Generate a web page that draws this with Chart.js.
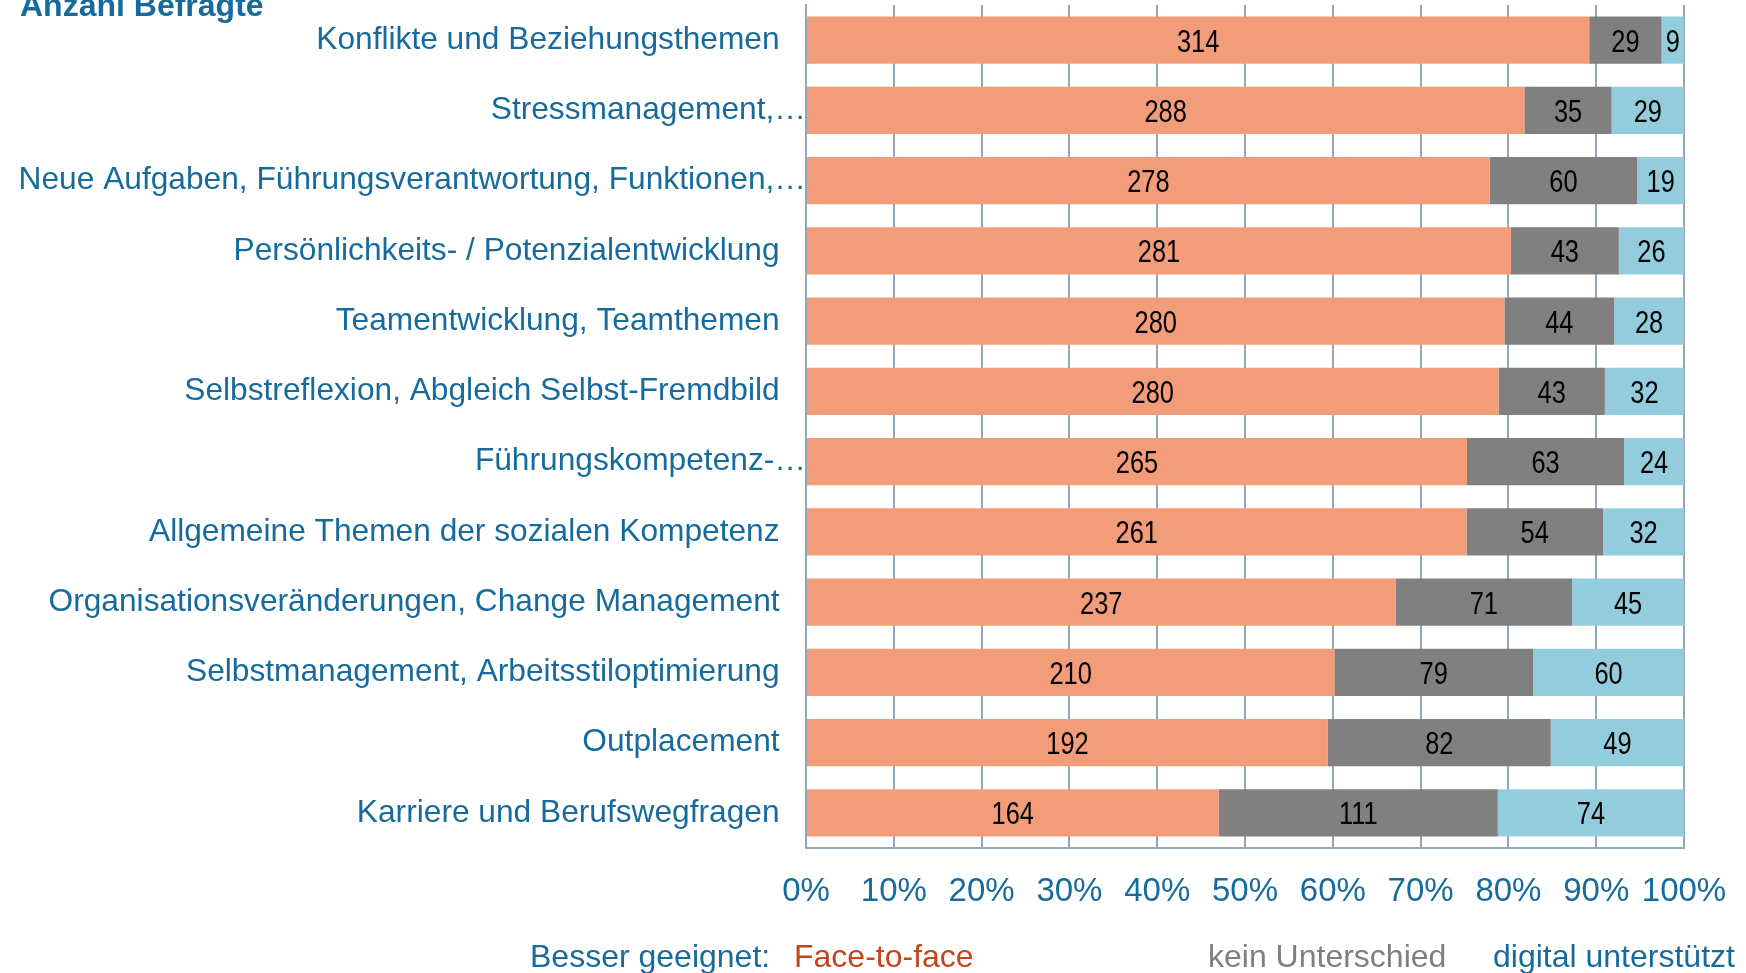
<!DOCTYPE html>
<html>
<head>
<meta charset="utf-8">
<script src="https://cdn.jsdelivr.net/npm/chart.js@4.4.1/dist/chart.umd.min.js"></script>
<style>
  html, body { margin: 0; padding: 0; background: #fff; }
  #wrap { width: 1746px; height: 973px; }
</style>
</head>
<body>
<div id="wrap"><canvas id="chart"></canvas></div>
<script>
const categories = [
    'Konflikte und Beziehungsthemen',
    'Stressmanagement,…',
    'Neue Aufgaben, Führungsverantwortung, Funktionen,…',
    'Persönlichkeits- / Potenzialentwicklung',
    'Teamentwicklung, Teamthemen',
    'Selbstreflexion, Abgleich Selbst-Fremdbild',
    'Führungskompetenz-…',
    'Allgemeine Themen der sozialen Kompetenz',
    'Organisationsveränderungen, Change Management',
    'Selbstmanagement, Arbeitsstiloptimierung',
    'Outplacement',
    'Karriere und Berufswegfragen'
];
const faceToFace = [314, 288, 278, 281, 280, 280, 265, 261, 237, 210, 192, 164];
const keinUnterschied = [29, 35, 60, 43, 44, 43, 63, 54, 71, 79, 82, 111];
const digital = [9, 29, 19, 26, 28, 32, 24, 32, 45, 60, 49, 74];
const xTicks = ['0%', '10%', '20%', '30%', '40%', '50%', '60%', '70%', '80%', '90%', '100%'];

const BLUE = '#176b9c';
const GRID = '#93a5bf';
const FONT = "'Liberation Sans', Arial, sans-serif";

const totals = categories.map((_, i) => faceToFace[i] + keinUnterschied[i] + digital[i]);
const pct = arr => arr.map((v, i) => v / totals[i] * 100);

const series = [
    { label: 'Face-to-face', counts: faceToFace, color: '#f29c7a' },
    { label: 'kein Unterschied', counts: keinUnterschied, color: '#808080' },
    { label: 'digital unterstützt', counts: digital, color: '#93cddd' }
];

// counts in the segments, squeezed horizontally to look like Arial Narrow
const countLabels = {
    id: 'countLabels',
    afterDatasetsDraw(chart) {
        const ctx = chart.ctx;
        chart.data.datasets.forEach((ds, di) => {
            chart.getDatasetMeta(di).data.forEach((bar, i) => {
                const p = bar.getProps(['x', 'y', 'base'], true);
                ctx.save();
                ctx.translate((p.x + p.base) / 2, p.y + 3);
                ctx.scale(0.82, 1);
                ctx.font = '31px ' + FONT;
                ctx.fillStyle = '#000';
                ctx.textAlign = 'center';
                ctx.textBaseline = 'middle';
                ctx.fillText(String(ds.counts[i]), 0, 0);
                ctx.restore();
            });
        });
    }
};

const extraText = {
    id: 'extraText',
    afterDraw(chart) {
        const ctx = chart.ctx;
        ctx.save();
        ctx.textBaseline = 'alphabetic';
        ctx.textAlign = 'left';
        ctx.font = 'bold 32px ' + FONT;
        ctx.fillStyle = BLUE;
        ctx.fillText('Anzahl Befragte', 20, 16);

        ctx.font = '32px ' + FONT;
        const y = 967;
        ctx.fillStyle = BLUE;
        ctx.fillText('Besser geeignet:', 530, y);
        ctx.fillStyle = '#c0471c';
        ctx.fillText('Face-to-face', 794, y);
        ctx.fillStyle = '#7f7f7f';
        ctx.fillText('kein Unterschied', 1208, y);
        ctx.fillStyle = BLUE;
        ctx.fillText('digital unterstützt', 1493, y);
        ctx.restore();
    }
};

new Chart(document.getElementById('chart'), {
    type: 'bar',
    data: {
        labels: categories,
        datasets: series.map(s => ({
            label: s.label,
            data: pct(s.counts),
            counts: s.counts,
            backgroundColor: s.color,
            borderWidth: 0,
            categoryPercentage: 0.67,
            barPercentage: 1
        }))
    },
    options: {
        indexAxis: 'y',
        responsive: true,
        maintainAspectRatio: false,
        animation: false,
        layout: { padding: { top: 5, right: 62, left: 0, bottom: 0 } },
        plugins: {
            legend: { display: false },
            tooltip: { enabled: false }
        },
        scales: {
            x: {
                stacked: true,
                min: 0,
                max: 100,
                afterFit: s => {
                    s.height = 125;
                    s.paddingLeft = 0;
                    s.paddingRight = 0;
                },
                grid: { color: GRID, lineWidth: 2, drawTicks: false },
                border: { color: GRID, width: 2 },
                ticks: {
                    stepSize: 10,
                    padding: 24,
                    color: BLUE,
                    font: { family: FONT, size: 33 },
                    maxRotation: 0,
                    callback: (v, i) => xTicks[i]
                }
            },
            y: {
                stacked: true,
                afterFit: s => {
                    s.width = 806;
                    s.paddingTop = 0;
                    s.paddingBottom = 0;
                },
                grid: { display: false, drawTicks: false },
                border: { color: GRID, width: 2 },
                ticks: {
                    padding: 0,
                    color: BLUE,
                    font: { family: FONT, size: 31.7 },
                    callback: function (v) {
                        const l = this.getLabelForValue(v);
                        return l.endsWith('…') ? l : l + '   ';
                    }
                }
            }
        }
    },
    plugins: [countLabels, extraText]
});
</script>
</body>
</html>
